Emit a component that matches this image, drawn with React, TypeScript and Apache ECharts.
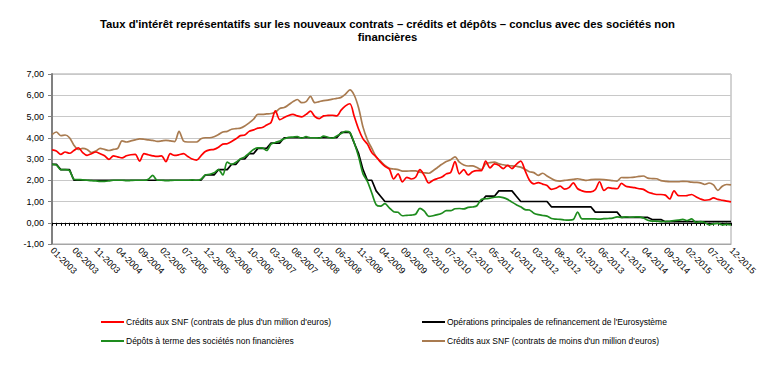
import React, { useEffect, useRef } from "react";
import * as echarts from "echarts";

const YEARS = [2003, 2004, 2005, 2006, 2007, 2008, 2009, 2010, 2011, 2012, 2013, 2014, 2015];
const categories: string[] = [];
YEARS.forEach((y) => {
  for (let m = 1; m <= 12; m++) categories.push(`${String(m).padStart(2, "0")}-${y}`);
});

const yTicks = [-1, 0, 1, 2, 3, 4, 5, 6, 7];

// Crédits aux SNF (contrats de plus d'un million d'euros)
const creditsPlus = [
  3.43, 3.38, 3.22, 3.33, 3.27, 3.40, 3.53, 3.30, 3.17, 3.25, 3.33, 3.25,
  3.15, 2.98, 3.15, 3.10, 3.05, 3.15, 3.20, 3.22, 2.90, 3.25, 3.20, 3.15,
  3.12, 3.15, 2.88, 3.25, 3.17, 3.20, 3.25, 3.12, 3.00, 2.95, 3.15, 3.35,
  3.43, 3.45, 3.55, 3.70, 3.72, 3.82, 3.95, 4.10, 4.13, 4.30, 4.37, 4.45,
  4.48, 4.60, 4.72, 5.27, 4.85, 4.95, 5.05, 5.10, 5.03, 4.98, 5.10, 5.25,
  5.00, 4.90, 5.03, 5.05, 5.06, 5.03, 5.30, 5.50, 5.60, 5.00, 4.40, 3.95,
  3.70, 3.30, 3.10, 2.85, 2.65, 2.53, 2.06, 2.30, 1.92, 2.14, 2.06, 2.14,
  2.50, 2.22, 1.87, 2.00, 2.08, 2.15, 2.30, 2.37, 2.88, 2.30, 2.50, 2.25,
  2.40, 2.45, 2.45, 2.90, 2.58, 2.77, 2.70, 2.55, 2.70, 2.55, 2.75, 2.90,
  2.45, 2.00, 1.83, 1.89, 1.82, 1.75, 1.57, 1.62, 1.72, 1.58, 1.65, 1.88,
  1.60, 1.50, 1.45, 1.45, 1.55, 1.93, 1.52, 1.65, 1.62, 1.60, 1.85, 1.72,
  1.68, 1.65, 1.60, 1.57, 1.45, 1.38, 1.33, 1.33, 1.30, 1.12, 1.50, 1.28,
  1.27, 1.28, 1.33, 1.22, 1.12, 1.06, 1.08, 1.17, 1.10, 1.06, 1.02, 0.98,
];

// Opérations principales de refinancement de l'Eurosystème
const refiRate = [
  2.75, 2.75, 2.50, 2.50, 2.50, 2.00, 2.00, 2.00, 2.00, 2.00, 2.00, 2.00,
  2.00, 2.00, 2.00, 2.00, 2.00, 2.00, 2.00, 2.00, 2.00, 2.00, 2.00, 2.00,
  2.00, 2.00, 2.00, 2.00, 2.00, 2.00, 2.00, 2.00, 2.00, 2.00, 2.00, 2.25,
  2.25, 2.25, 2.50, 2.50, 2.50, 2.75, 2.75, 3.00, 3.00, 3.25, 3.25, 3.50,
  3.50, 3.50, 3.75, 3.75, 3.75, 4.00, 4.00, 4.00, 4.00, 4.00, 4.00, 4.00,
  4.00, 4.00, 4.00, 4.00, 4.00, 4.00, 4.25, 4.25, 4.25, 3.75, 3.25, 2.50,
  2.00, 2.00, 1.50, 1.25, 1.00, 1.00, 1.00, 1.00, 1.00, 1.00, 1.00, 1.00,
  1.00, 1.00, 1.00, 1.00, 1.00, 1.00, 1.00, 1.00, 1.00, 1.00, 1.00, 1.00,
  1.00, 1.00, 1.00, 1.25, 1.25, 1.25, 1.50, 1.50, 1.50, 1.50, 1.25, 1.00,
  1.00, 1.00, 1.00, 1.00, 1.00, 1.00, 0.75, 0.75, 0.75, 0.75, 0.75, 0.75,
  0.75, 0.75, 0.75, 0.75, 0.50, 0.50, 0.50, 0.50, 0.50, 0.50, 0.25, 0.25,
  0.25, 0.25, 0.25, 0.25, 0.25, 0.15, 0.15, 0.15, 0.05, 0.05, 0.05, 0.05,
  0.05, 0.05, 0.05, 0.05, 0.05, 0.05, 0.05, 0.05, 0.05, 0.05, 0.05, 0.05,
];

// Dépôts à terme des sociétés non financières
const depots = [
  2.75, 2.72, 2.50, 2.50, 2.45, 2.05, 2.03, 2.02, 2.00, 1.98, 1.97, 1.95,
  1.95, 1.97, 2.00, 2.00, 2.00, 1.98, 1.99, 2.00, 2.00, 2.00, 2.05, 2.23,
  2.00, 2.00, 1.98, 1.99, 2.00, 2.00, 2.00, 2.00, 2.02, 2.00, 2.05, 2.25,
  2.28, 2.35, 2.50, 2.25, 2.85, 2.75, 2.85, 3.00, 3.10, 3.27, 3.45, 3.52,
  3.52, 3.40, 3.70, 3.78, 3.85, 3.95, 4.02, 4.03, 4.05, 3.98, 4.05, 4.00,
  4.00, 3.98, 4.08, 4.02, 3.98, 4.08, 4.20, 4.30, 4.25, 3.75, 3.10, 2.30,
  1.95, 1.40, 0.85, 0.78, 0.90, 0.70, 0.52, 0.49, 0.33, 0.35, 0.36, 0.40,
  0.68, 0.55, 0.30, 0.33, 0.38, 0.45, 0.57, 0.57, 0.66, 0.67, 0.65, 0.72,
  0.74, 0.80, 1.10, 1.13, 1.16, 1.20, 1.22, 1.18, 1.10, 0.97, 0.85, 0.75,
  0.62, 0.60, 0.45, 0.38, 0.34, 0.31, 0.20, 0.17, 0.16, 0.13, 0.12, 0.15,
  0.50, 0.18, 0.18, 0.18, 0.18, 0.17, 0.19, 0.20, 0.22, 0.28, 0.25, 0.28,
  0.26, 0.27, 0.28, 0.22, 0.12, 0.08, 0.08, 0.05, 0.06, 0.07, 0.10, 0.12,
  0.16, 0.10, 0.18, 0.02, 0.05, 0.01, -0.10, -0.05, -0.03, -0.10, -0.08, -0.10,
];

// Crédits aux SNF (contrats de moins d'un million d'euros)
const creditsMoins = [
  4.15, 4.27, 4.10, 4.13, 4.00, 3.65, 3.45, 3.50, 3.45, 3.30, 3.37, 3.50,
  3.45, 3.40, 3.45, 3.50, 3.85, 3.80, 3.85, 3.90, 3.95, 3.93, 3.90, 3.88,
  3.83, 3.85, 3.88, 3.85, 3.82, 4.30, 3.85, 3.80, 3.80, 3.80, 3.95, 4.00,
  4.00, 4.05, 4.15, 4.27, 4.30, 4.40, 4.43, 4.45, 4.55, 4.70, 4.87, 5.10,
  5.10, 5.12, 5.14, 5.20, 5.38, 5.42, 5.55, 5.70, 5.80, 5.65, 5.70, 5.95,
  5.65, 5.70, 5.75, 5.77, 5.82, 5.85, 5.90, 6.05, 6.25, 6.00, 5.40, 4.50,
  3.90, 3.50, 3.10, 2.90, 2.70, 2.56, 2.53, 2.50, 2.43, 2.43, 2.44, 2.44,
  2.38, 2.35, 2.33, 2.45, 2.60, 2.75, 2.88, 2.96, 3.10, 2.85, 2.72, 2.67,
  2.68, 2.60, 2.50, 2.77, 2.83, 2.85, 2.77, 2.73, 2.69, 2.68, 2.66, 2.62,
  2.52, 2.40, 2.36, 2.23, 2.33, 2.20, 2.08, 1.98, 1.96, 1.99, 2.02, 2.04,
  2.07, 2.03, 1.99, 2.03, 2.04, 2.04, 2.03, 2.01, 1.98, 1.96, 2.13, 2.12,
  2.13, 2.15, 2.18, 2.20, 2.10, 2.08, 2.07, 1.98, 1.95, 1.93, 1.93, 1.93,
  1.95, 1.94, 1.91, 1.90, 1.88, 1.80, 1.87, 1.78, 1.52, 1.72, 1.80, 1.78,
];

const NAME_PLUS = "Crédits aux SNF (contrats de plus d'un million d'euros)";
const NAME_REFI = "Opérations principales de refinancement de l'Eurosystème";
const NAME_DEP = "Dépôts à terme des sociétés non financières";
const NAME_MOINS = "Crédits aux SNF (contrats de moins d'un million d'euros)";

const FONT = "'Liberation Sans', Arial, sans-serif";

export default function App() {
  const ref = useRef<HTMLDivElement>(null);
  useEffect(() => {
    const chart = echarts.init(ref.current!, null, { renderer: "svg" });
    const legendCommon = {
      orient: "vertical" as const,
      top: 311,
      itemGap: 7,
      itemWidth: 23,
      itemHeight: 2,
      icon: "rect",
      textStyle: { fontSize: 8.5, fontFamily: FONT, color: "#000", lineHeight: 12, padding: [0, 0, 0, -3] },
    };
    chart.setOption({
      animation: false,
      backgroundColor: "#fff",
      textStyle: { fontFamily: FONT },
      title: {
        text: "Taux d'intérêt représentatifs sur les nouveaux contrats – crédits et dépôts – conclus avec des sociétés non\nfinancières",
        left: "center",
        top: 13,
        textStyle: { fontSize: 11.3, fontWeight: "bold", fontFamily: FONT, color: "#000", lineHeight: 12.5 },
      },
      legend: [
        { ...legendCommon, left: 96, data: [NAME_PLUS, NAME_DEP] },
        { ...legendCommon, left: 417, data: [NAME_REFI, NAME_MOINS] },
      ],
      grid: { left: 52, right: 44, top: 74, bottom: 121, show: true, borderColor: "#a6a6a6", borderWidth: 1, containLabel: false },
      xAxis: [
        {
          type: "category",
          data: categories,
          boundaryGap: false,
          position: "bottom",
          axisLine: { onZero: false, lineStyle: { color: "#a6a6a6", width: 1 } },
          axisTick: { show: false },
          axisLabel: {
            interval: 4,
            rotate: -45,
            fontSize: 9,
            color: "#000",
            fontFamily: FONT,
            margin: 5,
          },
          splitLine: { show: false },
        },
        {
          type: "category",
          data: categories,
          boundaryGap: false,
          position: "bottom",
          axisLine: { onZero: true, lineStyle: { color: "#000", width: 1 } },
          axisTick: { show: true, interval: 0, length: 3, lineStyle: { color: "#000" } },
          axisLabel: { show: false },
          splitLine: { show: false },
        },
      ],
      yAxis: {
        type: "value",
        min: yTicks[0],
        max: yTicks[yTicks.length - 1],
        interval: 1,
        axisLine: { show: true, lineStyle: { color: "#808080", width: 2 } },
        axisTick: { show: true, length: 4, lineStyle: { color: "#808080" } },
        axisLabel: {
          fontSize: 9,
          color: "#000",
          fontFamily: FONT,
          margin: 8,
          formatter: (v: number) => v.toFixed(2).replace(".", ","),
        },
        splitLine: { show: true, lineStyle: { color: "#c8c8c8", width: 1 } },
      },
      series: [
        { name: NAME_MOINS, type: "line", data: creditsMoins, symbol: "none", smooth: 0.3, lineStyle: { color: "#a97b50", width: 1.7 }, itemStyle: { color: "#a97b50" } },
        { name: NAME_PLUS, type: "line", data: creditsPlus, symbol: "none", smooth: 0.3, lineStyle: { color: "#ff0000", width: 1.7 }, itemStyle: { color: "#ff0000" } },
        { name: NAME_REFI, type: "line", data: refiRate, symbol: "none", smooth: false, lineStyle: { color: "#000000", width: 1.7 }, itemStyle: { color: "#000000" } },
        { name: NAME_DEP, type: "line", data: depots, symbol: "none", smooth: 0.3, lineStyle: { color: "#1e8c1e", width: 1.7 }, itemStyle: { color: "#1e8c1e" } },
      ],
    });
    return () => chart.dispose();
  }, []);
  return <div ref={ref} style={{ width: 775, height: 365, position: "absolute", left: 0, top: 0 }} />;
}
